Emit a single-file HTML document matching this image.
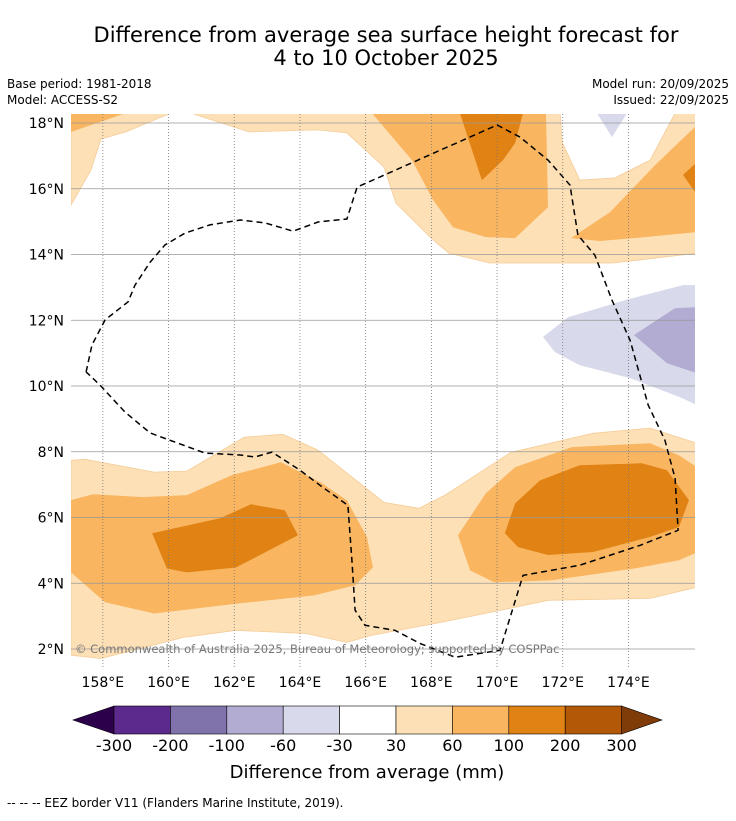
<!DOCTYPE html>
<html><head><meta charset="utf-8"><style>
body{margin:0;background:#fff;font-family:"Liberation Sans","DejaVu Sans",sans-serif;}
svg text{font-family:"DejaVu Sans","Liberation Sans",sans-serif;}
</style></head><body>
<svg id="chart" width="736" height="816" viewBox="0 0 736 816" xmlns="http://www.w3.org/2000/svg">
<text x="386" y="42" text-anchor="middle" font-size="21">Difference from average sea surface height forecast for</text>
<text x="386" y="65" text-anchor="middle" font-size="21">4 to 10 October 2025</text>
<text x="7" y="88" font-size="12">Base period: 1981-2018</text>
<text x="7" y="104" font-size="12">Model: ACCESS-S2</text>
<text x="729" y="88" text-anchor="end" font-size="12">Model run: 20/09/2025</text>
<text x="729" y="104" text-anchor="end" font-size="12">Issued: 22/09/2025</text>
<defs><clipPath id="mapclip"><rect x="71" y="114" width="624" height="554"/></clipPath></defs>
<g id="map" clip-path="url(#mapclip)"></g>
<g id="axes"></g>
<g id="cbar"></g>
<text x="367" y="778" text-anchor="middle" font-size="18">Difference from average (mm)</text>
<text x="7" y="807" font-size="12">--  --  -- EEZ border V11 (Flanders Marine Institute, 2019).</text>
</svg>
<script>
const lonTicks=[158,160,162,164,166,168,170,172,174];
const latTicks=[2,4,6,8,10,12,14,16,18];
const cbarBounds=[-300,-200,-100,-60,-30,30,60,100,200,300];
const cbarColors=['#5b2a8c','#8073ac','#b2abd2','#d8daeb','#ffffff','#fde0b6','#f9b55f','#e08214','#b35806'];
const lightOrange=[[157.03,15.5],[157.64,16.57],[157.94,17.51],[158.7,17.73],[160.07,18.3],[157.03,18.3]];
const medTopLeft=[[157.03,17.73],[158.7,18.3],[157.03,18.3]];
const medTopStrip=[[162.17,18.3],[162.17,18.24],[162.57,18.15],[164.06,18.24],[164.06,18.3]];
const lightCentral=[[160.68,18.3],[162.45,17.73],[164.55,17.79],[165.43,17.7],[166.56,16.66],[166.92,15.56],[168.05,14.44],[168.54,14.04],[169.78,13.74],[173.53,13.74],[176.09,14.04],[176.09,18.3],[175.42,18.3],[174.66,16.87],[173.59,16.33],[172.52,16.26],[171.98,17.42],[171.92,18.3]];
const medCentral=[[166.19,18.3],[167.41,16.87],[168.05,15.66],[168.66,14.83],[169.66,14.53],[170.55,14.5],[171.55,15.44],[171.49,18.3]];
const darkCentral=[[168.87,18.3],[169.54,16.26],[170.18,16.87],[170.55,17.39],[170.79,18.3]];
const medRight=[[172.25,14.5],[173.44,15.29],[174.81,16.72],[176.09,17.94],[176.09,14.68],[174.5,14.53],[173.13,14.41]];
const darkRight=[[175.66,16.42],[176.09,16.81],[176.09,15.81]];
const lavTri=[[173.04,18.3],[173.96,18.3],[173.5,17.57]];
const lavBig=[[171.4,11.49],[172.16,12.09],[173.89,12.61],[175.66,13.07],[176.09,13.07],[176.09,9.42],[175.57,9.66],[174.05,10.24],[172.52,10.63],[171.76,11.03]];
const lavDark=[[174.17,11.55],[175.42,12.37],[176.09,12.4],[176.09,10.39],[175.17,10.69]];
const lightBottom=[[157.03,7.74],[157.46,7.77],[159.56,7.38],[160.56,7.41],[162.3,8.44],[163.48,8.53],[164.55,8.05],[166.56,6.46],[167.62,6.28],[168.42,6.68],[170.42,7.98],[172.92,8.56],[174.66,8.72],[176.09,8.26],[176.09,3.88],[174.66,3.54],[171.55,3.48],[169.78,3.11],[168.29,2.81],[166.16,2.41],[165.43,2.2],[164.18,2.47],[162.05,2.57],[160.44,2.35],[157.94,1.71],[157.03,1.81]];
const medBottomLeft=[[157.03,6.53],[157.7,6.71],[159.19,6.62],[160.56,6.68],[161.93,7.29],[163.42,7.68],[164.67,7.04],[165.43,6.52],[166.04,5.4],[166.22,4.48],[165.68,3.94],[164.43,3.63],[162.18,3.39],[159.56,3.08],[158.07,3.42],[157.03,4.33]];
const darkBottomLeft=[[159.5,5.52],[159.95,4.45],[160.56,4.33],[162.05,4.48],[163.94,5.46],[163.54,6.22],[162.51,6.4],[161.57,5.98]];
const medBottomRight=[[168.81,5.46],[169.66,6.74],[170.55,7.53],[172.28,8.14],[174.66,8.26],[175.54,7.89],[176.09,7.53],[176.09,4.94],[175.54,4.7],[174.17,4.45],[171.67,4.09],[169.91,4.03],[169.18,4.39]];
const darkBottomRight=[[170.24,5.52],[170.55,6.43],[171.31,7.13],[172.52,7.59],[174.41,7.65],[175.17,7.44],[175.84,6.53],[175.54,5.71],[174.66,5.41],[172.92,4.95],[171.55,4.86],[170.64,5.1]];
const eezBorder=[[157.49,10.43],[157.67,11.25],[158.07,12.01],[158.77,12.56],[158.98,13.07],[159.44,13.77],[159.89,14.29],[160.5,14.65],[161.26,14.9],[162.18,15.05],[162.94,14.96],[163.79,14.71],[164.55,14.99],[165.43,15.08],[165.74,16.05],[170.0,17.94],[170.7,17.57],[171.55,16.87],[172.22,16.11],[172.46,14.59],[172.98,13.98],[173.5,12.61],[174.05,11.39],[174.6,9.42],[175.11,8.35],[175.42,7.19],[175.51,5.61],[174.35,5.15],[172.52,4.55],[170.79,4.24],[170.09,1.96],[168.72,1.75],[167.65,2.17],[166.89,2.57],[165.98,2.72],[165.68,3.18],[165.58,4.7],[165.46,6.37],[164.61,6.98],[164.0,7.44],[163.15,7.99],[162.63,7.84],[162.18,7.9],[161.11,7.96],[159.44,8.57],[158.67,9.21],[157.91,10.03],[157.49,10.43]];

const NS='http://www.w3.org/2000/svg';
function X(lon){return 70+(lon-157)*32.85;}
function Y(lat){return 123+(18-lat)*32.875;}
function mk(tag,attrs,parent){const e=document.createElementNS(NS,tag);for(const k in attrs)e.setAttribute(k,attrs[k]);parent.appendChild(e);return e;}
const map=document.getElementById('map');
const axes=document.getElementById('axes');
const cbar=document.getElementById('cbar');
function pts(a){return a.map(p=>X(p[0]).toFixed(1)+','+Y(p[1]).toFixed(1)).join(' ');}
const bg=mk('rect',{x:71,y:114,width:624,height:554,fill:'#ffffff'},map);


const layers=[
 [lightOrange,cbarColors[5],'contour-30-60-top-left'],
 [medTopLeft,cbarColors[6],'contour-60-100-top-left'],
 [medTopStrip,cbarColors[6],'contour-60-100-top-strip'],
 [lightCentral,cbarColors[5],'contour-30-60-top-central'],
 [medCentral,cbarColors[6],'contour-60-100-top-central'],
 [darkCentral,cbarColors[7],'contour-100-200-top-central'],
 [medRight,cbarColors[6],'contour-60-100-top-right'],
 [darkRight,cbarColors[7],'contour-100-200-top-right'],
 [lavTri,cbarColors[3],'contour-neg30-neg60-top'],
 [lavBig,cbarColors[3],'contour-neg30-neg60-east'],
 [lavDark,cbarColors[2],'contour-neg60-neg100-east'],
 [lightBottom,cbarColors[5],'contour-30-60-south'],
 [medBottomLeft,cbarColors[6],'contour-60-100-southwest'],
 [darkBottomLeft,cbarColors[7],'contour-100-200-southwest'],
 [medBottomRight,cbarColors[6],'contour-60-100-southeast'],
 [darkBottomRight,cbarColors[7],'contour-100-200-southeast']
];
layers.forEach(l=>{
 const p=mk('polygon',{points:pts(l[0]),fill:l[1],stroke:l[1]==='#fde0b6'?'#f5cc98':'none','stroke-width':0.8},map);
 
 
});
lonTicks.forEach(t=>{
 const g=mk('line',{x1:X(t),x2:X(t),y1:114,y2:668,stroke:'#777','stroke-width':0.8,'stroke-dasharray':'1,2'},map);
 
 
 const tx=mk('text',{x:X(t),y:687,'text-anchor':'middle','font-size':14},axes);
 tx.textContent=t+'°E';
 
 
});
latTicks.forEach(t=>{
 const g=mk('line',{x1:71,x2:695,y1:Y(t),y2:Y(t),stroke:'#999','stroke-width':0.8},map);
 
 
 const tx=mk('text',{x:64,y:Y(t)+5,'text-anchor':'end','font-size':14},axes);
 tx.textContent=t+'°N';
 
 
});
const eez=mk('polyline',{points:pts(eezBorder),fill:'none',stroke:'#000','stroke-width':1.5,'stroke-dasharray':'6,4'},map);


const cr=mk('text',{x:75,y:653,'font-size':11.5,fill:'#777'},map);
cr.textContent='© Commonwealth of Australia 2025, Bureau of Meteorology; supported by COSPPac';


// colorbar
const cx0=114,cw=56.4,cy=706,ch=28;
function CX(i){return cx0+i*cw;}
const lt=mk('polygon',{points:`${CX(0)},${cy} 73,${cy+ch/2} ${CX(0)},${cy+ch}`,fill:'#2d004b',stroke:'#000','stroke-width':0.6},cbar);


const rt=mk('polygon',{points:`${CX(9)},${cy} 662,${cy+ch/2} ${CX(9)},${cy+ch}`,fill:'#7f3b08',stroke:'#000','stroke-width':0.6},cbar);


cbarColors.forEach((c,i)=>{
 const r=mk('rect',{x:CX(i),y:cy,width:cw,height:ch,fill:c,stroke:'#000','stroke-width':0.6},cbar);
 
 
});
cbarBounds.forEach((b,i)=>{
 const t=mk('text',{x:CX(i),y:751,'text-anchor':'middle','font-size':16},cbar);
 t.textContent=b;
 
 
});
</script>
</body></html>
